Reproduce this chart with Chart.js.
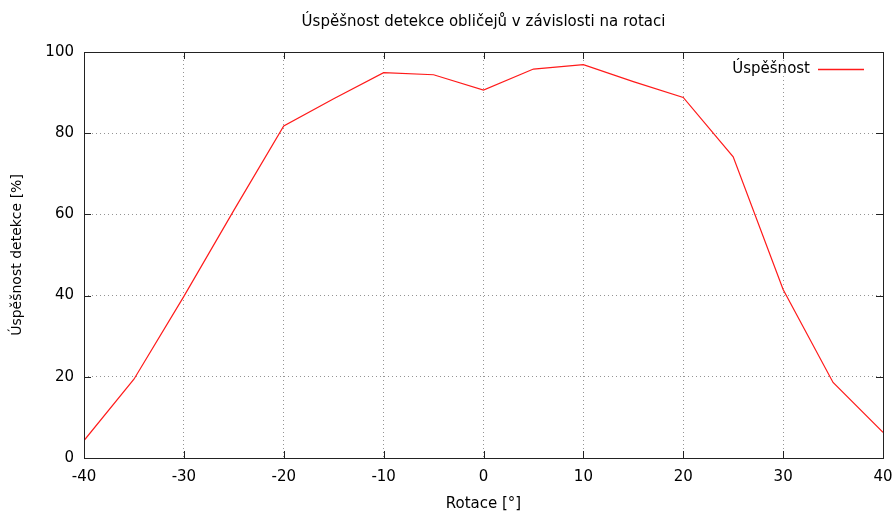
<!DOCTYPE html>
<html>
<head>
<meta charset="utf-8">
<script src="https://cdn.jsdelivr.net/npm/chart.js@4/dist/chart.umd.min.js"></script>
<style>
  html, body { margin: 0; padding: 0; background: #fff; }
  #wrap { width: 894px; height: 513px; }
</style>
</head>
<body>
<div id="wrap"><canvas id="chart" width="894" height="513"></canvas></div>
<script>
// Detection success rate per head rotation
const rotation = [-40, -35, -30, -25, -20, -15, -10, -5, 0, 5, 10, 15, 20, 25, 30, 35, 40];
const success  = [4.3, 19.4, 39.8, 61.0, 81.8, 88.5, 94.9, 94.4, 90.6, 95.8, 96.9, 92.7, 88.8, 74.2, 41.5, 18.6, 6.3];

const chartTitle = 'Úspěšnost detekce obličejů v závislosti na rotaci';
const xTitle = 'Rotace [°]';
const yTitle = 'Úspěšnost detekce [%]';
const seriesName = 'Úspěšnost';
const xTicks = { min: -40, max: 40, step: 10 };
const yTicks = { min: 0, max: 100, step: 20 };

const FONT = 'DejaVu Sans';
const LINE_COLOR = '#ff1a1a';
const points = rotation.map((r, i) => ({ x: r, y: success[i] }));

// Frame, inward tick marks, title and key drawn from the chart's own scales
const framePlugin = {
  id: 'frame',
  afterDatasetsDraw(chart) {
    const { ctx, chartArea: a, scales } = chart;
    const tl = 7;
    ctx.save();
    ctx.strokeStyle = '#222';
    ctx.lineWidth = 1;
    ctx.setLineDash([]);
    ctx.beginPath();
    scales.x.ticks.forEach(t => {
      const px = Math.round(scales.x.getPixelForValue(t.value)) + 0.5;
      ctx.moveTo(px, a.bottom); ctx.lineTo(px, a.bottom - tl);
      ctx.moveTo(px, a.top); ctx.lineTo(px, a.top + tl);
    });
    scales.y.ticks.forEach(t => {
      const py = Math.round(scales.y.getPixelForValue(t.value)) + 0.5;
      ctx.moveTo(a.left, py); ctx.lineTo(a.left + tl, py);
      ctx.moveTo(a.right, py); ctx.lineTo(a.right - tl, py);
    });
    ctx.stroke();
    ctx.strokeRect(Math.round(a.left) + 0.5, Math.round(a.top) + 0.5,
                   Math.round(a.right - a.left), Math.round(a.bottom - a.top));

    // title
    ctx.fillStyle = '#000';
    ctx.font = '15px "' + FONT + '"';
    ctx.textAlign = 'center';
    ctx.textBaseline = 'middle';
    ctx.fillText(chartTitle, (a.left + a.right) / 2, 22);

    // key
    const ky = a.top + 17;
    ctx.textAlign = 'right';
    ctx.fillText(seriesName, 810, ky);
    ctx.strokeStyle = LINE_COLOR;
    ctx.lineWidth = 1.3;
    ctx.beginPath();
    ctx.moveTo(818, Math.round(ky) + 0.5);
    ctx.lineTo(864, Math.round(ky) + 0.5);
    ctx.stroke();
    ctx.restore();
  }
};

new Chart(document.getElementById('chart'), {
  type: 'line',
  data: {
    datasets: [{
      label: seriesName,
      data: points,
      borderColor: LINE_COLOR,
      borderWidth: 1.2,
      pointRadius: 0,
      tension: 0,
      fill: false
    }]
  },
  options: {
    responsive: false,
    animation: false,
    layout: { padding: { left: 0, right: 11, top: 52, bottom: 0 } },
    plugins: { legend: { display: false }, title: { display: false }, tooltip: { enabled: false } },
    scales: {
      x: {
        type: 'linear',
        min: xTicks.min, max: xTicks.max,
        afterFit(s) { s.height = 55; s.paddingLeft = 0; s.paddingRight = 0; },
        ticks: { stepSize: xTicks.step, color: '#000', padding: 10, font: { family: FONT, size: 15 } },
        grid: { color: 'rgba(0,0,0,0.42)', lineWidth: 1, drawTicks: false },
        border: { display: false, dash: [1, 3] },
        title: { display: true, text: xTitle, color: '#000', font: { family: FONT, size: 15 }, padding: { top: 0, bottom: 0 } }
      },
      y: {
        min: yTicks.min, max: yTicks.max,
        afterFit(s) { s.width = 84; s.paddingTop = 0; s.paddingBottom = 0; },
        ticks: { stepSize: yTicks.step, color: '#000', padding: 10, font: { family: FONT, size: 15 } },
        grid: { color: 'rgba(0,0,0,0.42)', lineWidth: 1, drawTicks: false },
        border: { display: false, dash: [1, 3] },
        title: { display: true, text: yTitle, color: '#000', font: { family: FONT, size: 14 }, padding: { top: 9, bottom: 0 } }
      }
    }
  },
  plugins: [framePlugin]
});
</script>
</body>
</html>
